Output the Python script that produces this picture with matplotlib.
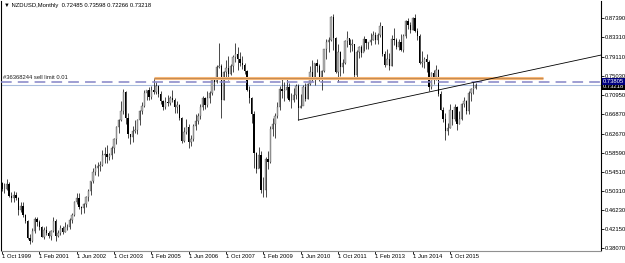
import numpy as np
import pandas as pd
import matplotlib
matplotlib.use("Agg")
import matplotlib.pyplot as plt

plt.rcParams["font.family"] = ["Liberation Sans", "DejaVu Sans"]

# NZDUSD monthly, Oct 1999 .. Sep 2016
first_open = 0.5200
closes = [
    0.5090, 0.5080, 0.5195,
    0.4930, 0.4895, 0.4950, 0.4880, 0.4630, 0.4720, 0.4520, 0.4390, 0.4030, 0.3960, 0.4180, 0.4440,
    0.4380, 0.4270, 0.4050, 0.4210, 0.4140, 0.4070, 0.4180, 0.4400, 0.4070, 0.4140, 0.4250, 0.4160,
    0.4270, 0.4260, 0.4410, 0.4520, 0.4800, 0.4890, 0.4700, 0.4670, 0.4760, 0.4910, 0.5030, 0.5250,
    0.5450, 0.5530, 0.5580, 0.5600, 0.5810, 0.5830, 0.5770, 0.5800, 0.5970, 0.6150, 0.6410, 0.6550,
    0.6760, 0.7170, 0.6610, 0.6250, 0.6200, 0.6330, 0.6340, 0.6560, 0.6760, 0.6860, 0.7140, 0.7200,
    0.7050, 0.7210, 0.7170, 0.7300, 0.7120, 0.6970, 0.6830, 0.6950, 0.6930, 0.7030, 0.7000, 0.6830,
    0.6880, 0.6600, 0.6110, 0.6300, 0.6410, 0.6090, 0.6160, 0.6430, 0.6540, 0.6650, 0.6840, 0.7040,
    0.6890, 0.7030, 0.7150, 0.7420, 0.7380, 0.7700, 0.7720, 0.7000, 0.7580, 0.7680, 0.7550, 0.7710,
    0.7910, 0.7980, 0.7860, 0.7780, 0.7730, 0.7620, 0.7210, 0.7040, 0.6680, 0.5860, 0.5510, 0.5800,
    0.5060, 0.5050, 0.5730, 0.5650, 0.6360, 0.6470, 0.6650, 0.6840, 0.7220, 0.7180, 0.7200, 0.7270,
    0.6990, 0.6990, 0.7100, 0.7280, 0.6810, 0.6860, 0.7260, 0.7010, 0.7330, 0.7600, 0.7470, 0.7780,
    0.7710, 0.7480, 0.7620, 0.8080, 0.8240, 0.8280, 0.8780, 0.8330, 0.7590, 0.8030, 0.7700, 0.7780,
    0.8250, 0.8330, 0.8180, 0.8190, 0.7520, 0.8010, 0.8120, 0.8000, 0.8290, 0.8220, 0.8230, 0.8270,
    0.8380, 0.8270, 0.8380, 0.8580, 0.7970, 0.7740, 0.7880, 0.7710, 0.8300, 0.8270, 0.8130, 0.8230,
    0.8060, 0.8370, 0.8680, 0.8600, 0.8500, 0.8750, 0.8460, 0.8370, 0.7790, 0.7810, 0.7870, 0.7800,
    0.7270, 0.7560, 0.7480, 0.7630, 0.7110, 0.6770, 0.6580, 0.6330, 0.6380, 0.6770, 0.6580, 0.6840,
    0.6480, 0.6590, 0.6910, 0.6970, 0.6760, 0.7130, 0.7220, 0.72485, 0.73218,
]
highs = [
    0.5240, 0.5200, 0.5290,
    0.5230, 0.5010, 0.5030, 0.5020, 0.4910, 0.4800, 0.4790, 0.4550, 0.4420, 0.4120, 0.4240, 0.4480,
    0.4480, 0.4420, 0.4290, 0.4270, 0.4290, 0.4180, 0.4200, 0.4480, 0.4440, 0.4200, 0.4300, 0.4290,
    0.4370, 0.4320, 0.4450, 0.4570, 0.4830, 0.5000, 0.4990, 0.4720, 0.4780, 0.4920, 0.5090, 0.5250,
    0.5520, 0.5620, 0.5660, 0.5690, 0.5920, 0.5980, 0.6020, 0.5860, 0.6000, 0.6180, 0.6430, 0.6590,
    0.6960, 0.7230, 0.7190, 0.6700, 0.6270, 0.6430, 0.6560, 0.6580, 0.6770, 0.6950, 0.7210, 0.7210,
    0.7270, 0.7290, 0.7465, 0.7370, 0.7320, 0.7180, 0.6990, 0.7050, 0.7090, 0.7080, 0.7210, 0.7030,
    0.6960, 0.6910, 0.6620, 0.6400, 0.6580, 0.6480, 0.6240, 0.6480, 0.6690, 0.6700, 0.6900, 0.7070,
    0.7050, 0.7190, 0.7180, 0.7460, 0.7470, 0.7750, 0.8210, 0.7770, 0.7610, 0.7840, 0.7930, 0.7770,
    0.7960, 0.8210, 0.8130, 0.8020, 0.7930, 0.7780, 0.7640, 0.7290, 0.7050, 0.6750, 0.5880, 0.5990,
    0.5890, 0.5330, 0.5760, 0.5900, 0.6440, 0.6600, 0.6700, 0.6940, 0.7280, 0.7480, 0.7370, 0.7440,
    0.7360, 0.7130, 0.7240, 0.7330, 0.7330, 0.7110, 0.7320, 0.7350, 0.7360, 0.7720, 0.7840, 0.7780,
    0.7860, 0.7760, 0.7630, 0.8090, 0.8290, 0.8350, 0.8790, 0.8840, 0.8340, 0.8190, 0.8050, 0.7880,
    0.8270, 0.8460, 0.8300, 0.8290, 0.8190, 0.8070, 0.8150, 0.8170, 0.8360, 0.8300, 0.8240, 0.8420,
    0.8460, 0.8440, 0.8420, 0.8670, 0.8580, 0.8050, 0.8090, 0.8000, 0.8390, 0.8530, 0.8330, 0.8300,
    0.8400, 0.8400, 0.8700, 0.8740, 0.8670, 0.8770, 0.8840, 0.8530, 0.8400, 0.8040, 0.7910, 0.7970,
    0.7840, 0.7600, 0.7640, 0.7740, 0.7650, 0.7190, 0.6830, 0.6720, 0.6500, 0.6900, 0.6780, 0.6900,
    0.6850, 0.6750, 0.6930, 0.7060, 0.6980, 0.7190, 0.7240, 0.7380, 0.73598,
]
lows = [
    0.5030, 0.5000, 0.5050,
    0.4900, 0.4810, 0.4810, 0.4850, 0.4530, 0.4580, 0.4480, 0.4360, 0.4010, 0.3900, 0.3940, 0.4130,
    0.4290, 0.4200, 0.4040, 0.4000, 0.4100, 0.4030, 0.3990, 0.4150, 0.3960, 0.4040, 0.4100, 0.4120,
    0.4160, 0.4210, 0.4220, 0.4350, 0.4490, 0.4750, 0.4650, 0.4550, 0.4570, 0.4690, 0.4830, 0.4960,
    0.5200, 0.5370, 0.5360, 0.5470, 0.5580, 0.5640, 0.5640, 0.5700, 0.5730, 0.5850, 0.6050, 0.6290,
    0.6540, 0.6690, 0.6480, 0.6170, 0.6040, 0.6080, 0.6280, 0.6260, 0.6450, 0.6690, 0.6830, 0.6980,
    0.7000, 0.7010, 0.7120, 0.7110, 0.7050, 0.6910, 0.6780, 0.6790, 0.6860, 0.6890, 0.6940, 0.6720,
    0.6720, 0.6570, 0.6060, 0.6090, 0.6250, 0.5950, 0.6010, 0.6110, 0.6340, 0.6470, 0.6580, 0.6770,
    0.6790, 0.6830, 0.6920, 0.7100, 0.7200, 0.7360, 0.7670, 0.6610, 0.7000, 0.7430, 0.7410, 0.7530,
    0.7580, 0.7800, 0.7630, 0.7720, 0.7660, 0.7540, 0.7190, 0.6930, 0.6490, 0.5520, 0.5420, 0.5520,
    0.5000, 0.4900, 0.4900, 0.5500, 0.5630, 0.6210, 0.6180, 0.6600, 0.6780, 0.7030, 0.6970, 0.7040,
    0.6960, 0.6820, 0.6940, 0.7020, 0.6560, 0.6810, 0.6900, 0.6960, 0.7020, 0.7310, 0.7400, 0.7320,
    0.7580, 0.7400, 0.7200, 0.7600, 0.7880, 0.8030, 0.8250, 0.8060, 0.7560, 0.7370, 0.7510, 0.7560,
    0.7760, 0.8130, 0.8030, 0.8040, 0.7460, 0.7480, 0.7900, 0.7920, 0.8050, 0.8090, 0.8080, 0.8160,
    0.8270, 0.8190, 0.8190, 0.8340, 0.7930, 0.7690, 0.7770, 0.7630, 0.7710, 0.8170, 0.8080, 0.8060,
    0.8050, 0.8020, 0.8310, 0.8510, 0.8420, 0.8490, 0.8450, 0.8280, 0.7770, 0.7700, 0.7680, 0.7600,
    0.7180, 0.7220, 0.7330, 0.7420, 0.7070, 0.6770, 0.6510, 0.6130, 0.6240, 0.6390, 0.6450, 0.6530,
    0.6350, 0.6470, 0.6570, 0.6840, 0.6680, 0.6680, 0.6970, 0.7120, 0.72266,
]
opens = [first_open] + closes[:-1]

price_labels = [0.87390, 0.83310, 0.79110, 0.75030, 0.70950, 0.66870, 0.62670,
                0.58590, 0.54510, 0.50310, 0.46230, 0.42150, 0.38070]
tick_every = 16

resistance = 0.7465          # orange level from the 2005 high
resistance_end_bar = 232
sell_limit = 0.73805
bid = 0.73218
trend_a = (127, 0.6559)      # May 2010 low
trend_b = (192, 0.7258)

months = pd.date_range("1999-10-01", periods=len(closes), freq="MS")
o = np.array(opens)
h = np.array(highs)
l = np.array(lows)
c = np.array(closes)
idx = np.arange(len(c))

fs = 4.2
fig = plt.figure(figsize=(6.25, 2.63), dpi=100)
ax = fig.add_axes([1 / 625, 1 - 250.5 / 263, 600 / 625, 249.5 / 263])

ax.set_xlim(-0.43, 256.7)
ax.set_ylim(0.37598, 0.91140)

# candles
ax.vlines(idx, l, h, color="black", lw=0.5, zorder=3)
up = c >= o
body_lo = np.minimum(o, c)
body_h = np.maximum(np.abs(c - o), 0.0008)
ax.bar(idx[up], body_h[up], bottom=body_lo[up], width=0.65,
       color="#b4b4b4", edgecolor="#303030", lw=0.2, zorder=4)
ax.bar(idx[~up], body_h[~up], bottom=body_lo[~up], width=0.65,
       color="black", lw=0, zorder=4)

# objects
ax.hlines(resistance, 65, resistance_end_bar, color="#f6b676", lw=2.2, zorder=5)
ax.hlines(resistance + 0.0006, 65, resistance_end_bar, color="#a87440", lw=0.45, zorder=5)
ax.axhline(sell_limit, color="#8484c6", lw=1.1, ls=(0, (7, 4)), zorder=6)
ax.axhline(bid, color="#a9bddd", lw=0.8, zorder=2)
slope = (trend_b[1] - trend_a[1]) / (trend_b[0] - trend_a[0])
x_end = 256.7
ax.plot([trend_a[0], x_end], [trend_a[1], trend_a[1] + slope * (x_end - trend_a[0])],
        color="black", lw=0.6, zorder=6)

ax.text(0.6, sell_limit + 0.004, "#36368244 sell limit 0.01", fontsize=fs,
        color="#202020", va="bottom", ha="left")

# axes styling
ax.spines["top"].set_visible(False)
ax.spines["left"].set_color("black")
ax.spines["right"].set_color("black")
ax.spines["bottom"].set_color("#909090")
for s in ax.spines.values():
    s.set_linewidth(0.8)

ax.yaxis.tick_right()
ax.set_yticks(price_labels)
ax.set_yticklabels([f"{v:.5f}" for v in price_labels])
ax.tick_params(axis="y", length=2, width=0.6, pad=0.8, labelsize=fs, colors="black")

xt = idx[::tick_every]
ax.set_xticks(xt)
ax.set_xticklabels([f"1 {m.strftime('%b %Y')}" for m in months[::tick_every]],
                   ha="left")
ax.tick_params(axis="x", length=2, width=0.6, pad=0.5, labelsize=fs)

# price tags on the right axis
ax.text(1.003, sell_limit, f"{sell_limit:.5f}", transform=ax.get_yaxis_transform(),
        fontsize=fs, color="white", va="center", ha="left", zorder=10,
        bbox=dict(boxstyle="square,pad=0.15", fc="#000080", ec="none"))
ax.text(1.003, bid - 0.004, f"{bid:.5f}", transform=ax.get_yaxis_transform(),
        fontsize=fs, color="white", va="center", ha="left", zorder=9,
        bbox=dict(boxstyle="square,pad=0.15", fc="black", ec="none"))

fig.text(4 / 625, 1 - 6 / 263, "\u25bc NZDUSD,Monthly  0.72485 0.73598 0.72266 0.73218",
         fontsize=fs, va="center", ha="left", color="black")

fig.savefig("out.png", dpi=100)
